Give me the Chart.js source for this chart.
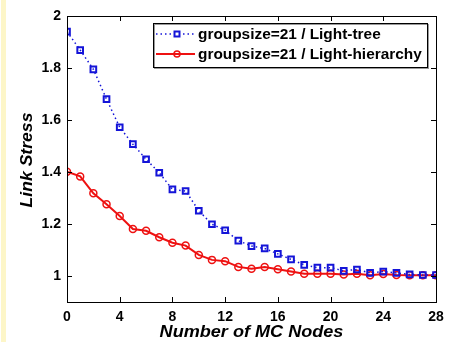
<!DOCTYPE html>
<html>
<head>
<meta charset="utf-8">
<script src="https://cdn.jsdelivr.net/npm/chart.js@4"></script>
<style>
  html, body { margin: 0; padding: 0; background: #fff; }
  #wrap { position: relative; width: 454px; height: 342px; }
  #strip { position: absolute; left: 1px; top: 0; width: 5px; height: 342px; background: #fdf6c8; }
  canvas { position: absolute; left: 0; top: 0; }
</style>
</head>
<body>
<div id="wrap">
  <div id="strip"></div>
  <canvas id="chart" width="454" height="342"></canvas>
</div>
<script>
// data
const nodes = [0,1,2,3,4,5,6,7,8,9,10,11,12,13,14,15,16,17,18,19,20,21,22,23,24,25,26,27,28];
const lightTree = [1.94,1.869,1.795,1.68,1.572,1.507,1.449,1.397,1.333,1.327,1.251,1.199,1.176,1.136,1.115,1.106,1.085,1.064,1.043,1.032,1.032,1.02,1.025,1.012,1.017,1.012,1.006,1.004,1.004];
const lightHierarchy = [1.401,1.383,1.318,1.276,1.231,1.181,1.174,1.149,1.128,1.117,1.081,1.062,1.057,1.035,1.028,1.035,1.026,1.017,1.009,1.009,1.009,1.006,1.009,1.003,1.008,1.004,1.003,1.003,1.003];
const xTicks = [0,4,8,12,16,20,24,28];
const yTicks = [1,1.2,1.4,1.6,1.8,2];
const xTitle = 'Number of MC Nodes';
const yTitle = 'Link Stress';

const BLUE = '#1414d8';
const RED = '#ee1111';
const tickFont = { family: 'Liberation Sans, Arial', size: 14, weight: 'bold' };

// the source image is a bit wide, so text is stretched along its baseline
function stretchedText(ctx, text, x, y, sx, rot) {
  ctx.save();
  ctx.translate(x, y);
  if (rot) ctx.rotate(rot);
  ctx.scale(sx, 1);
  ctx.fillText(text, 0, 0);
  ctx.restore();
}

// MATLAB style box, inward ticks on all sides, titles and legend
const boxPlugin = {
  id: 'box',
  afterDraw(chart) {
    const { ctx, chartArea: a, scales: { x, y } } = chart;
    ctx.save();
    ctx.strokeStyle = '#000';
    ctx.lineWidth = 1;
    ctx.strokeRect(Math.round(a.left) + 0.5, Math.round(a.top) + 0.5,
      Math.round(a.right - a.left), Math.round(a.bottom - a.top));
    const tl = 5;
    ctx.beginPath();
    xTicks.forEach(v => {
      const px = Math.round(x.getPixelForValue(v)) + 0.5;
      ctx.moveTo(px, a.bottom); ctx.lineTo(px, a.bottom - tl);
      ctx.moveTo(px, a.top); ctx.lineTo(px, a.top + tl);
    });
    yTicks.forEach(v => {
      const py = Math.round(y.getPixelForValue(v)) + 0.5;
      ctx.moveTo(a.left, py); ctx.lineTo(a.left + tl, py);
      ctx.moveTo(a.right, py); ctx.lineTo(a.right - tl, py);
    });
    ctx.stroke();

    // axis titles
    ctx.fillStyle = '#000';
    ctx.font = 'italic bold 16px "Liberation Sans", Arial';
    ctx.textAlign = 'center';
    ctx.textBaseline = 'middle';
    stretchedText(ctx, xTitle, (a.left + a.right) / 2, 333, 1.13, 0);
    stretchedText(ctx, yTitle, 28, (a.top + a.bottom) / 2 + 1, 1.1, -Math.PI / 2);

    // legend
    const lx = 153, ly = 23, lw = 274, lh = 44;
    ctx.fillStyle = '#fff';
    ctx.fillRect(lx, ly, lw, lh);
    ctx.strokeStyle = '#999';
    ctx.strokeRect(lx + 1.5, ly + 1.5, lw, lh);
    ctx.strokeStyle = '#000';
    ctx.strokeRect(lx + 0.5, ly + 0.5, lw, lh);
    ctx.font = 'bold 14px "Liberation Sans", Arial';
    ctx.textAlign = 'left';
    chart.data.datasets.forEach((ds, i) => {
      const cy = ly + 11 + i * 20;
      ctx.strokeStyle = ds.borderColor;
      ctx.lineWidth = ds.borderWidth;
      ctx.setLineDash(ds.borderDash || []);
      ctx.beginPath();
      ctx.moveTo(lx + 3, cy); ctx.lineTo(lx + 42, cy);
      ctx.stroke();
      ctx.setLineDash([]);
      ctx.lineWidth = ds.pointBorderWidth;
      const mx = lx + 24;
      if (ds.pointStyle === 'rect') {
        ctx.fillStyle = '#fff';
        ctx.fillRect(mx - 2.5, cy - 2.5, 5, 5);
        ctx.strokeRect(mx - 2.5, cy - 2.5, 5, 5);
      } else {
        ctx.beginPath();
        ctx.arc(mx, cy, 3, 0, Math.PI * 2);
        ctx.stroke();
      }
      ctx.fillStyle = '#000';
      stretchedText(ctx, ds.label, lx + 45, cy + 1, 1.1, 0);
    });
    ctx.restore();
  }
};

new Chart(document.getElementById('chart'), {
  type: 'line',
  data: {
    datasets: [{
      label: 'groupsize=21 / Light-tree',
      data: nodes.map((n, i) => ({ x: n, y: lightTree[i] })),
      borderColor: BLUE,
      borderWidth: 1.5,
      borderDash: [1.5, 3],
      pointStyle: 'rect',
      pointRadius: 4,
      pointBorderWidth: 2,
      pointBorderColor: BLUE,
      pointBackgroundColor: 'rgba(255,255,255,0)',
      fill: false
    }, {
      label: 'groupsize=21 / Light-hierarchy',
      data: nodes.map((n, i) => ({ x: n, y: lightHierarchy[i] })),
      borderColor: RED,
      borderWidth: 2,
      pointStyle: 'circle',
      pointRadius: 3.5,
      pointBorderWidth: 1.5,
      pointBorderColor: RED,
      pointBackgroundColor: 'rgba(255,255,255,0)',
      fill: false
    }]
  },
  options: {
    responsive: false,
    animation: false,
    layout: { padding: { top: 16, right: 18, left: 0, bottom: 0 } },
    plugins: { legend: { display: false }, tooltip: { enabled: false } },
    scales: {
      x: {
        type: 'linear', min: 0, max: 28,
        afterBuildTicks: s => { s.ticks = xTicks.map(v => ({ value: v })); },
        afterFit: s => { s.height = 40; },
        grid: { display: false, drawTicks: false },
        border: { display: false },
        ticks: { padding: 7, color: '#000', font: tickFont, maxRotation: 0 }
      },
      y: {
        type: 'linear', min: 0.9, max: 2,
        afterBuildTicks: s => { s.ticks = yTicks.map(v => ({ value: v })); },
        afterFit: s => { s.width = 67; },
        grid: { display: false, drawTicks: false },
        border: { display: false },
        ticks: { padding: 6, color: '#000', font: tickFont, callback: v => String(Math.round(v * 10) / 10) }
      }
    }
  },
  plugins: [boxPlugin]
});
</script>
</body>
</html>
